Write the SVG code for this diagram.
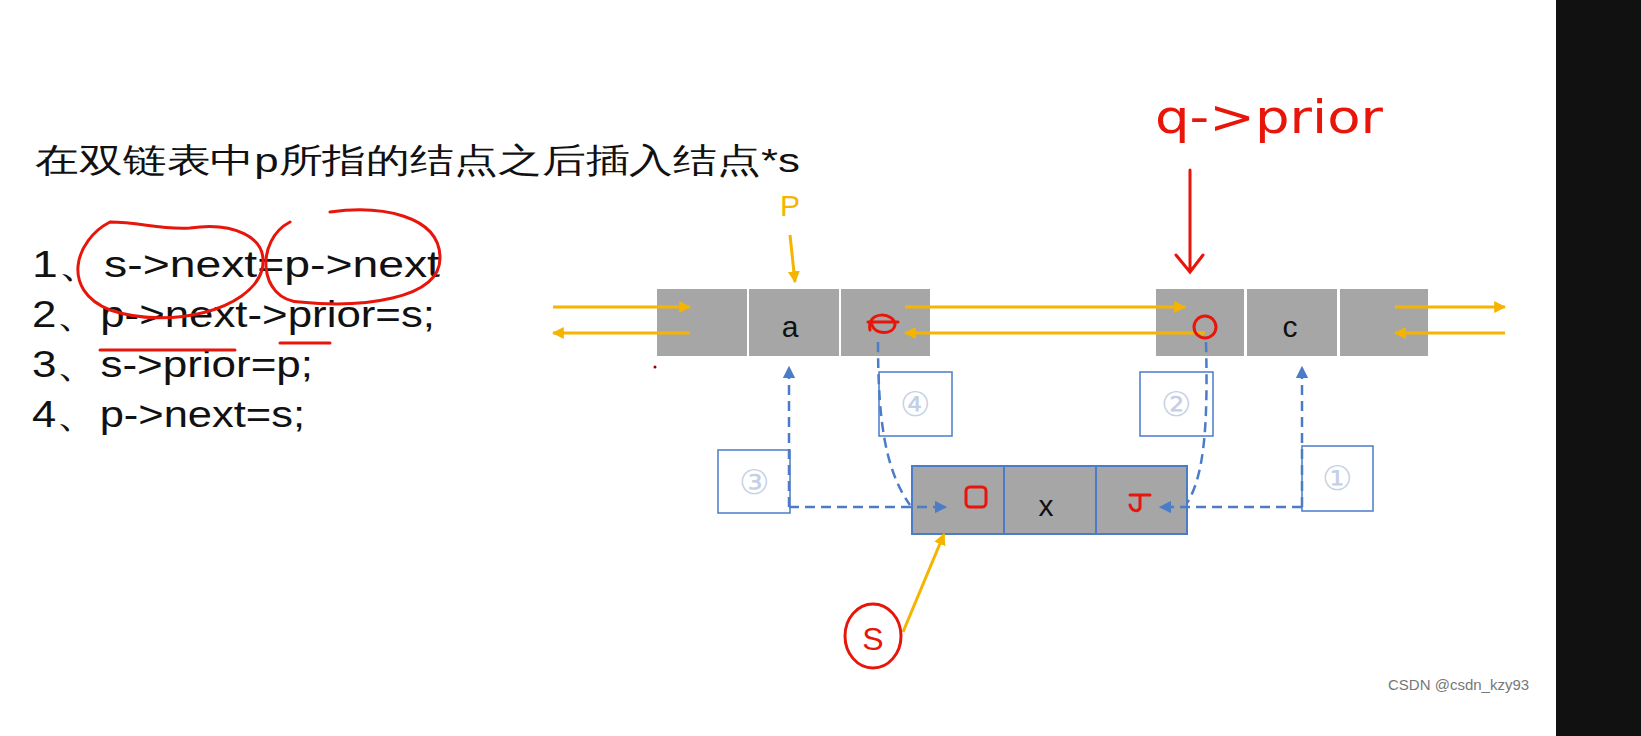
<svg xmlns="http://www.w3.org/2000/svg" width="1641" height="736" viewBox="0 0 1641 736">
<defs>
<style>
.cell{fill:#a6a6a6}
.t{font-family:"Liberation Sans",Arial,sans-serif;fill:#111}
.o{stroke:#f5b400;stroke-width:3;fill:none}
.b{stroke:#4a7cc8;stroke-width:2.5;fill:none;stroke-dasharray:10 6}
.bx{fill:#fff;stroke:#4a7cc8;stroke-width:1.5}
.num{font-family:"DejaVu Serif",serif;font-size:34px;fill:#c5d0e4;text-anchor:middle}
.r{stroke:#e8150a;stroke-width:3;fill:none;stroke-linecap:round}
</style>
<marker id="ao" viewBox="0 0 10 10" refX="9" refY="5" markerWidth="4" markerHeight="4" orient="auto"><path d="M0,0L10,5L0,10z" fill="#f5b400"/></marker>
<marker id="ab" viewBox="0 0 10 10" refX="9" refY="5" markerWidth="5" markerHeight="5" orient="auto"><path d="M0,0L10,5L0,10z" fill="#4a7cc8"/></marker>
</defs>
<rect width="1641" height="736" fill="#fff"/>
<rect x="1556" y="0" width="85" height="736" fill="#111"/>
<text class="t" x="35" y="172" font-size="34" textLength="765" lengthAdjust="spacingAndGlyphs" font-family="'Liberation Sans','Noto Sans CJK SC',sans-serif">在双链表中p所指的结点之后插入结点*s</text>
<g class="t" font-size="37" font-family="'Liberation Sans','Noto Sans CJK SC',sans-serif">
<text x="32" y="277" textLength="408" lengthAdjust="spacingAndGlyphs">1、s-&gt;next=p-&gt;next</text>
<text x="32" y="327" textLength="403" lengthAdjust="spacingAndGlyphs">2、p-&gt;next-&gt;prior=s;</text>
<text x="32" y="377" textLength="281" lengthAdjust="spacingAndGlyphs">3、s-&gt;prior=p;</text>
<text x="32" y="427" textLength="273" lengthAdjust="spacingAndGlyphs">4、p-&gt;next=s;</text>
</g>
<g id="node-p">
<rect class="cell" x="657" y="289" width="90" height="67"/>
<rect class="cell" x="749" y="289" width="90" height="67"/>
<rect class="cell" x="841" y="289" width="89" height="67"/>
<text class="t" x="790" y="337" font-size="30" text-anchor="middle">a</text>
</g>
<g id="node-c">
<rect class="cell" x="1156" y="289" width="88" height="67"/>
<rect class="cell" x="1247" y="289" width="90" height="67"/>
<rect class="cell" x="1340" y="289" width="88" height="67"/>
<text class="t" x="1290" y="337" font-size="30" text-anchor="middle">c</text>
</g>
<g id="node-s">
<rect class="cell" x="912" y="466" width="275" height="68" stroke="#4a7cc8" stroke-width="2"/>
<line x1="1004" y1="466" x2="1004" y2="534" stroke="#4a7cc8" stroke-width="2"/>
<line x1="1096" y1="466" x2="1096" y2="534" stroke="#4a7cc8" stroke-width="2"/>
<text class="t" x="1046" y="516" font-size="30" text-anchor="middle">x</text>
</g>
<g id="labels">
<rect class="bx" x="718" y="450" width="72" height="63"/><text class="num" x="754" y="494">③</text>
<rect class="bx" x="879" y="372" width="73" height="64"/><text class="num" x="915" y="416">④</text>
<rect class="bx" x="1140" y="372" width="73" height="64"/><text class="num" x="1176" y="416">②</text>
<rect class="bx" x="1302" y="446" width="71" height="65"/><text class="num" x="1337" y="490">①</text>
<text x="790" y="216" font-family="'Liberation Sans',sans-serif" font-size="30" fill="#f5b400" text-anchor="middle">P</text>
</g>
<g id="connectors">
<path class="o" d="M553,307H690" marker-end="url(#ao)"/>
<path class="o" d="M690,333H553" marker-end="url(#ao)"/>
<path class="o" d="M905,307H1185" marker-end="url(#ao)"/>
<path class="o" d="M1205,333H905" marker-end="url(#ao)"/>
<path class="o" d="M1395,307H1505" marker-end="url(#ao)"/>
<path class="o" d="M1505,333H1395" marker-end="url(#ao)"/>
<path class="o" d="M790,235L795,282" marker-end="url(#ao)"/>
<path class="o" d="M903,632L944,534" marker-end="url(#ao)"/>
<path class="b" d="M789,507V367" marker-end="url(#ab)"/>
<path class="b" d="M789,507H946" marker-end="url(#ab)"/>
<path class="b" d="M878,342C878,420 885,470 910,505"/>
<path class="b" d="M1206,342C1208,420 1205,475 1187,503"/>
<path class="b" d="M1302,507H1160" marker-end="url(#ab)"/>
<path class="b" d="M1302,507V367" marker-end="url(#ab)"/>
</g>
<g id="annotations">
<text x="1155" y="133" font-family="'DejaVu Sans',sans-serif" font-size="46" textLength="228" lengthAdjust="spacingAndGlyphs" fill="#e8150a">q-&gt;prior</text>
<path class="r" d="M1190,170V270M1176,255L1190,272L1203,255"/>
<path class="r" d="M110,222C75,240 60,290 110,310C170,330 250,310 262,270C270,235 230,222 190,228C160,230 140,222 110,222"/>
<path class="r" d="M290,222C255,240 258,300 300,302C360,308 440,300 440,258C440,215 380,205 330,212"/>
<path class="r" d="M100,350H235M280,343H330"/>
<ellipse class="r" cx="873" cy="636" rx="28" ry="32"/>
<text x="873" y="650" font-family="'Liberation Sans',sans-serif" font-size="32" fill="#e8150a" text-anchor="middle">S</text>
<path class="r" d="M870,330C866,310 895,312 895,325C893,335 875,335 872,325M868,322H898"/>
<circle class="r" cx="1205" cy="327" r="11"/>
<rect class="r" x="966" y="487" width="20" height="20" rx="4"/>
<path class="r" d="M1130,495H1150M1140,495V508C1138,512 1132,512 1130,505"/>
<circle cx="655" cy="367" r="1.5" fill="#800"/>
</g>
<text x="1388" y="690" font-family="'Liberation Sans',sans-serif" font-size="15" fill="#777">CSDN @csdn_kzy93</text>
</svg>
